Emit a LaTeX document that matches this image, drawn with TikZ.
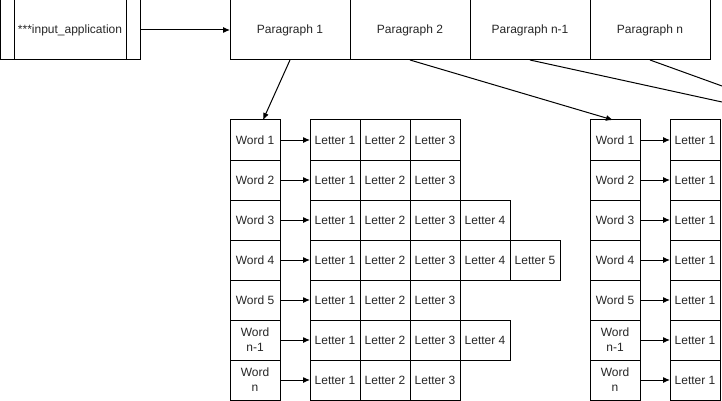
\documentclass[tikz,border=0pt]{standalone}
\usepackage{fontspec}
\setmainfont{Liberation Sans}
\usetikzlibrary{arrows.meta}
\begin{document}
\begin{tikzpicture}[x=1pt,y=-1pt,line width=1pt,>={Latex[length=7pt,width=6pt]},
  cell/.style={draw,minimum width=50pt,minimum height=40pt,inner sep=0pt,outer sep=0pt,anchor=north west,align=center,font=\fontsize{12}{15}\selectfont,text=black!85},
  wide/.style={cell,minimum width=120pt,minimum height=60pt}]
\useasboundingbox (0,0) rectangle (722,401);
\pgfmathsetmacro{\kw}{50}
\pgfmathsetmacro{\kh}{40}
\pgfmathsetmacro{\ky}{120}
\pgfmathsetmacro{\wx}{230}
\pgfmathsetmacro{\lx}{310}
\pgfmathsetmacro{\vx}{590}
\pgfmathsetmacro{\mx}{670}
% top row
\node[wide,minimum width=140pt] (inp) at (0,0) {***input\_application};
\draw ([xshift=14pt]inp.north west) -- ([xshift=14pt]inp.south west);
\draw ([xshift=-14pt]inp.north east) -- ([xshift=-14pt]inp.south east);
\node[wide] (p1) at (230,0) {Paragraph 1};
\node[wide] (p2) at (350,0) {Paragraph 2};
\node[wide] (pn1) at (470,0) {Paragraph n-1};
\node[wide] (pn) at (590,0) {Paragraph n};
\draw[->] (inp) -- (p1);
%
% words of paragraph 1
\node[cell] (w1) at (\wx,\ky) {Word 1};
\node[cell] (w2) at (\wx,\ky+\kh) {Word 2};
\node[cell] (w3) at (\wx,\ky+2*\kh) {Word 3};
\node[cell] (w4) at (\wx,\ky+3*\kh) {Word 4};
\node[cell] (w5) at (\wx,\ky+4*\kh) {Word 5};
\node[cell] (w6) at (\wx,\ky+5*\kh) {Word\\n-1};
\node[cell] (w7) at (\wx,\ky+6*\kh) {Word\\n};
%
\node[cell] (l1a) at (\lx,\ky) {Letter 1};
\node[cell] (l1b) at (\lx+\kw,\ky) {Letter 2};
\node[cell] (l1c) at (\lx+2*\kw,\ky) {Letter 3};
%
\node[cell] (l2a) at (\lx,\ky+\kh) {Letter 1};
\node[cell] (l2b) at (\lx+\kw,\ky+\kh) {Letter 2};
\node[cell] (l2c) at (\lx+2*\kw,\ky+\kh) {Letter 3};
%
\node[cell] (l3a) at (\lx,\ky+2*\kh) {Letter 1};
\node[cell] (l3b) at (\lx+\kw,\ky+2*\kh) {Letter 2};
\node[cell] (l3c) at (\lx+2*\kw,\ky+2*\kh) {Letter 3};
\node[cell] (l3d) at (\lx+3*\kw,\ky+2*\kh) {Letter 4};
%
\node[cell] (l4a) at (\lx,\ky+3*\kh) {Letter 1};
\node[cell] (l4b) at (\lx+\kw,\ky+3*\kh) {Letter 2};
\node[cell] (l4c) at (\lx+2*\kw,\ky+3*\kh) {Letter 3};
\node[cell] (l4d) at (\lx+3*\kw,\ky+3*\kh) {Letter 4};
\node[cell] (l4e) at (\lx+4*\kw,\ky+3*\kh) {Letter 5};
%
\node[cell] (l5a) at (\lx,\ky+4*\kh) {Letter 1};
\node[cell] (l5b) at (\lx+\kw,\ky+4*\kh) {Letter 2};
\node[cell] (l5c) at (\lx+2*\kw,\ky+4*\kh) {Letter 3};
%
\node[cell] (l6a) at (\lx,\ky+5*\kh) {Letter 1};
\node[cell] (l6b) at (\lx+\kw,\ky+5*\kh) {Letter 2};
\node[cell] (l6c) at (\lx+2*\kw,\ky+5*\kh) {Letter 3};
\node[cell] (l6d) at (\lx+3*\kw,\ky+5*\kh) {Letter 4};
%
\node[cell] (l7a) at (\lx,\ky+6*\kh) {Letter 1};
\node[cell] (l7b) at (\lx+\kw,\ky+6*\kh) {Letter 2};
\node[cell] (l7c) at (\lx+2*\kw,\ky+6*\kh) {Letter 3};
%
\draw[->] (w1) -- (l1a);
\draw[->] (w2) -- (l2a);
\draw[->] (w3) -- (l3a);
\draw[->] (w4) -- (l4a);
\draw[->] (w5) -- (l5a);
\draw[->] (w6) -- (l6a);
\draw[->] (w7) -- (l7a);
%
% words of paragraph 2
\node[cell] (v1) at (\vx,\ky) {Word 1};
\node[cell] (v2) at (\vx,\ky+\kh) {Word 2};
\node[cell] (v3) at (\vx,\ky+2*\kh) {Word 3};
\node[cell] (v4) at (\vx,\ky+3*\kh) {Word 4};
\node[cell] (v5) at (\vx,\ky+4*\kh) {Word 5};
\node[cell] (v6) at (\vx,\ky+5*\kh) {Word\\n-1};
\node[cell] (v7) at (\vx,\ky+6*\kh) {Word\\n};
%
\node[cell] (m1) at (\mx,\ky) {Letter 1};
\node[cell] (m2) at (\mx,\ky+\kh) {Letter 1};
\node[cell] (m3) at (\mx,\ky+2*\kh) {Letter 1};
\node[cell] (m4) at (\mx,\ky+3*\kh) {Letter 1};
\node[cell] (m5) at (\mx,\ky+4*\kh) {Letter 1};
\node[cell] (m6) at (\mx,\ky+5*\kh) {Letter 1};
\node[cell] (m7) at (\mx,\ky+6*\kh) {Letter 1};
%
\draw[->] (v1) -- (m1);
\draw[->] (v2) -- (m2);
\draw[->] (v3) -- (m3);
\draw[->] (v4) -- (m4);
\draw[->] (v5) -- (m5);
\draw[->] (v6) -- (m6);
\draw[->] (v7) -- (m7);
%
% paragraphs to words
\draw[->] (p1.south) -- ([xshift=8pt]w1.north);
\draw[->] (p2.south) -- ([xshift=-2pt]v1.north);
\coordinate (en1) at (722,102);
\coordinate (en) at (722,86);
\draw (pn1.south) -- (en1);
\draw (pn.south) -- (en);
\end{tikzpicture}
\end{document}
